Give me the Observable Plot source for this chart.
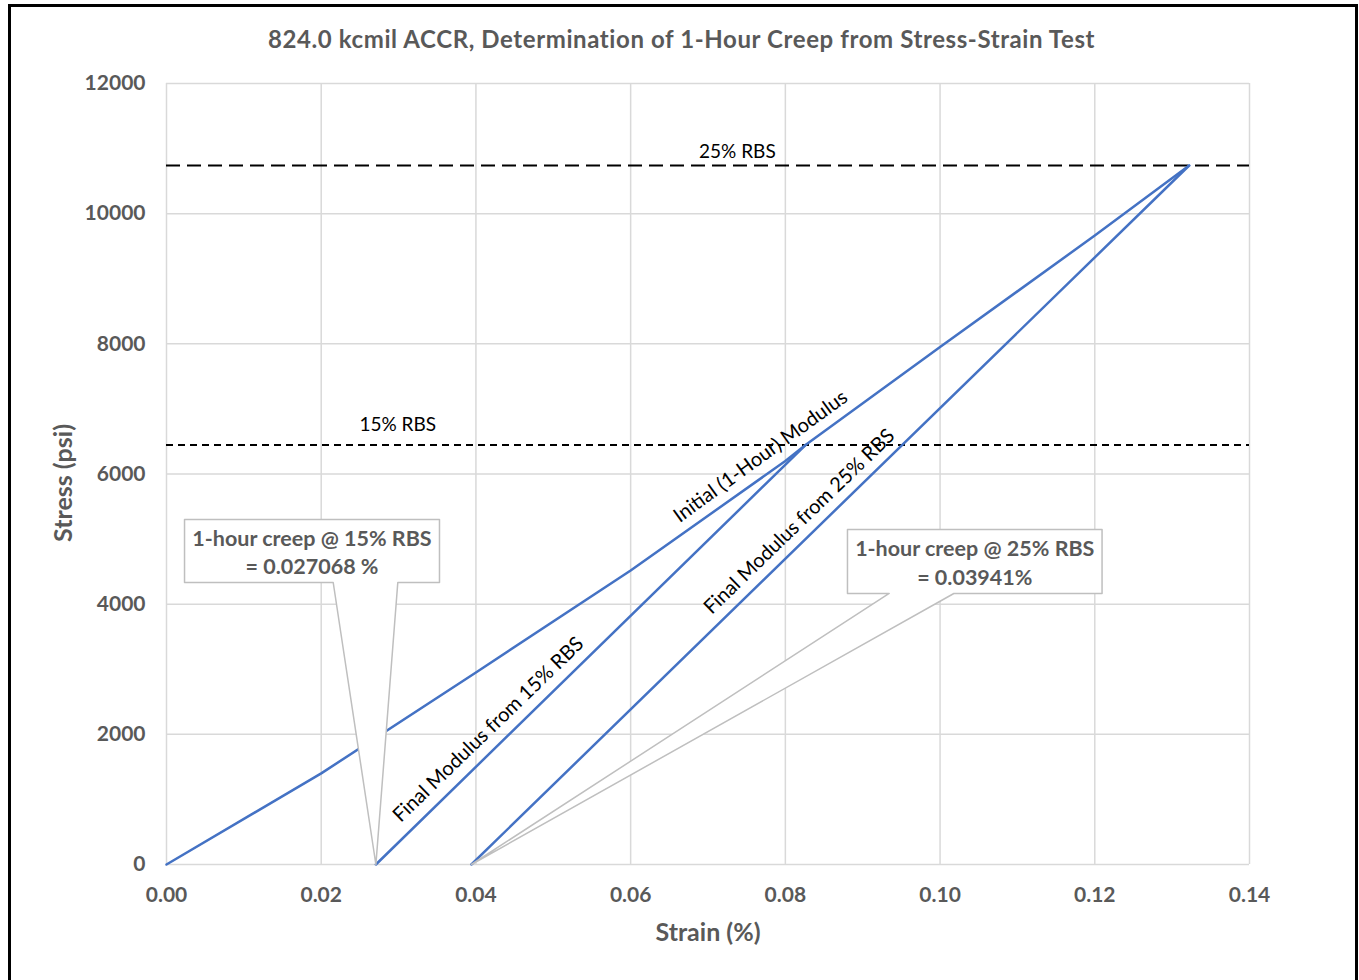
<!DOCTYPE html>
<html>
<head>
<meta charset="utf-8">
<script src="https://cdn.jsdelivr.net/npm/d3@7"></script>
<script src="https://cdn.jsdelivr.net/npm/@observablehq/plot@0.6"></script>
<style>
  body { margin: 0; background: white; }
  #wrap { position: relative; width: 1359px; height: 980px; overflow: hidden; background: white; }
  #title { position: absolute; top: 23px; left: 2px; width: 1359px; text-align: center;
           font-family: Lato, sans-serif; font-weight: bold; font-size: 24px; letter-spacing: 0.6px; line-height: 32px; color: #595959; }
  #chart { position: absolute; left: 0; top: 60px; }
  #border { position: absolute; left: 8px; top: 4px; width: 1344px; height: 1000px; border: 3px solid #000; }
</style>
</head>
<body>
<div id="wrap">
  <div id="chart"></div>
  <div id="title"></div>
  <div id="border"></div>
</div>
<script>
// ---------- data ----------
const titleText = "824.0 kcmil ACCR, Determination of 1-Hour Creep from Stress-Strain Test";
const xLabel = "Strain (%)";
const yLabel = "Stress (psi)";

const strainTicks = [0, 0.02, 0.04, 0.06, 0.08, 0.10, 0.12, 0.14];
const stressTicks = [0, 2000, 4000, 6000, 8000, 10000, 12000];

// Initial (1-hour) modulus curve
const initialStrain = [0, 0.02, 0.04, 0.06, 0.08, 0.0826, 0.10, 0.12, 0.1322];
const initialStress = [0, 1400, 2950, 4517, 6200, 6444, 7950, 9664, 10740];

const rbsLevels = ["25% RBS", "15% RBS"];
const rbsStress = [10740, 6444];
const rbsLabelStrain = [0.0738, 0.0299];

const creepNames = ["Final Modulus from 15% RBS", "Final Modulus from 25% RBS"];
const creepStrain = [0.027068, 0.03941];        // 1-hour creep (zero-stress intercept)
const creepTopStrain = [0.0826, 0.1322];        // where final modulus meets initial curve
const creepTopStress = [6444, 10740];

const lineLabels = ["Initial (1-Hour) Modulus", "Final Modulus from 15% RBS", "Final Modulus from 25% RBS"];
const lineLabelStrain = [0.0768, 0.0416, 0.0818];
const lineLabelStress = [6269, 2074, 5270];
const lineLabelAngle = [-36, -44, -44];

const calloutText = ["1-hour creep @ 15% RBS\n= 0.027068 %", "1-hour creep @ 25% RBS\n= 0.03941%"];
const calloutLeft = [0.00233, 0.08803];
const calloutRight = [0.03529, 0.12094];
const calloutTop = [5301, 5147];
const calloutBottom = [4333, 4164];
const calloutWedgeA = [0.02155, 0.09342];
const calloutWedgeB = [0.0299, 0.10178];
const calloutTip = [0.027068, 0.03941];

// ---------- derived tables ----------
const initial = initialStrain.map((s, i) => ({strain: s, stress: initialStress[i]}));
const finals = creepNames.flatMap((n, i) => [
  {name: n, strain: creepStrain[i], stress: 0},
  {name: n, strain: creepTopStrain[i], stress: creepTopStress[i]}
]);
const rbs = rbsLevels.map((n, i) => ({name: n, stress: rbsStress[i], strain: rbsLabelStrain[i]}));
const labels = lineLabels.map((t, i) => ({t, strain: lineLabelStrain[i], stress: lineLabelStress[i], a: lineLabelAngle[i]}));
const callouts = calloutText.map((t, i) => ({
  t,
  cx: (calloutLeft[i] + calloutRight[i]) / 2,
  cy: (calloutTop[i] + calloutBottom[i]) / 2,
  poly: [
    [calloutLeft[i], calloutTop[i]], [calloutRight[i], calloutTop[i]], [calloutRight[i], calloutBottom[i]],
    [calloutWedgeB[i], calloutBottom[i]], [calloutTip[i], 0], [calloutWedgeA[i], calloutBottom[i]],
    [calloutLeft[i], calloutBottom[i]], [calloutLeft[i], calloutTop[i]]
  ].map(([x, y]) => ({x, y, id: i}))
}));

document.getElementById("title").textContent = titleText;

const gray = "#595959";
const blue = "#4472C4";

const marks = [
  Plot.gridX(strainTicks, {stroke: "#d9d9d9", strokeOpacity: 1, strokeWidth: 1.5}),
  Plot.gridY(stressTicks, {stroke: "#d9d9d9", strokeOpacity: 1, strokeWidth: 1.5}),
  Plot.axisX(strainTicks, {tickSize: 0, tickPadding: 23, tickFormat: d3.format(".2f"), fontSize: 21, fontWeight: "bold", fill: gray, label: null}),
  Plot.axisY(stressTicks, {tickSize: 0, tickPadding: 21, tickFormat: d3.format("d"), fontSize: 21, fontWeight: "bold", fill: gray, label: null}),
  Plot.text([xLabel], {frameAnchor: "bottom", dy: 68, text: d => d, fontSize: 25, fontWeight: "bold", fill: gray, lineAnchor: "middle", textAnchor: "middle"}),
  Plot.text([yLabel], {frameAnchor: "left", dx: -103, dy: 9, rotate: -90, text: d => d, fontSize: 25, fontWeight: "bold", fill: gray, lineAnchor: "middle", textAnchor: "middle"}),
  Plot.ruleY([rbs[0]], {y: "stress", stroke: "black", strokeWidth: 2, strokeDasharray: "14,7"}),
  Plot.ruleY([rbs[1]], {y: "stress", stroke: "black", strokeWidth: 2, strokeDasharray: "7,5"}),
  Plot.text([rbs[0]], {x: "strain", y: "stress", text: "name", dy: -14, fontSize: 19, fill: "black"}),
  Plot.text([rbs[1]], {x: "strain", y: "stress", text: "name", dy: -20, fontSize: 19, fill: "black"}),
  Plot.line(initial, {x: "strain", y: "stress", stroke: blue, strokeWidth: 2.5}),
  Plot.line(finals, {x: "strain", y: "stress", z: "name", stroke: blue, strokeWidth: 2.5}),
  Plot.text(labels, {x: "strain", y: "stress", text: "t", rotate: d => d.a, fontSize: 20, fill: "black"})
];
for (const c of callouts) {
  marks.push(Plot.line(c.poly, {x: "x", y: "y", fill: "white", stroke: "#bfbfbf", strokeWidth: 1.5, curve: "linear-closed"}));
  marks.push(Plot.text([c], {x: "cx", y: "cy", text: "t", fontSize: 21.5, fontWeight: "bold", fill: gray, lineHeight: 1.32}));
}

const chart = Plot.plot({
  width: 1359,
  height: 900,
  marginLeft: 166,
  marginRight: 110,
  marginTop: 23,
  marginBottom: 96,
  style: {fontFamily: "Lato, sans-serif", background: "white"},
  x: {domain: [0, 0.14]},
  y: {domain: [0, 12000]},
  marks
});
document.getElementById("chart").appendChild(chart);
</script>
</body>
</html>
